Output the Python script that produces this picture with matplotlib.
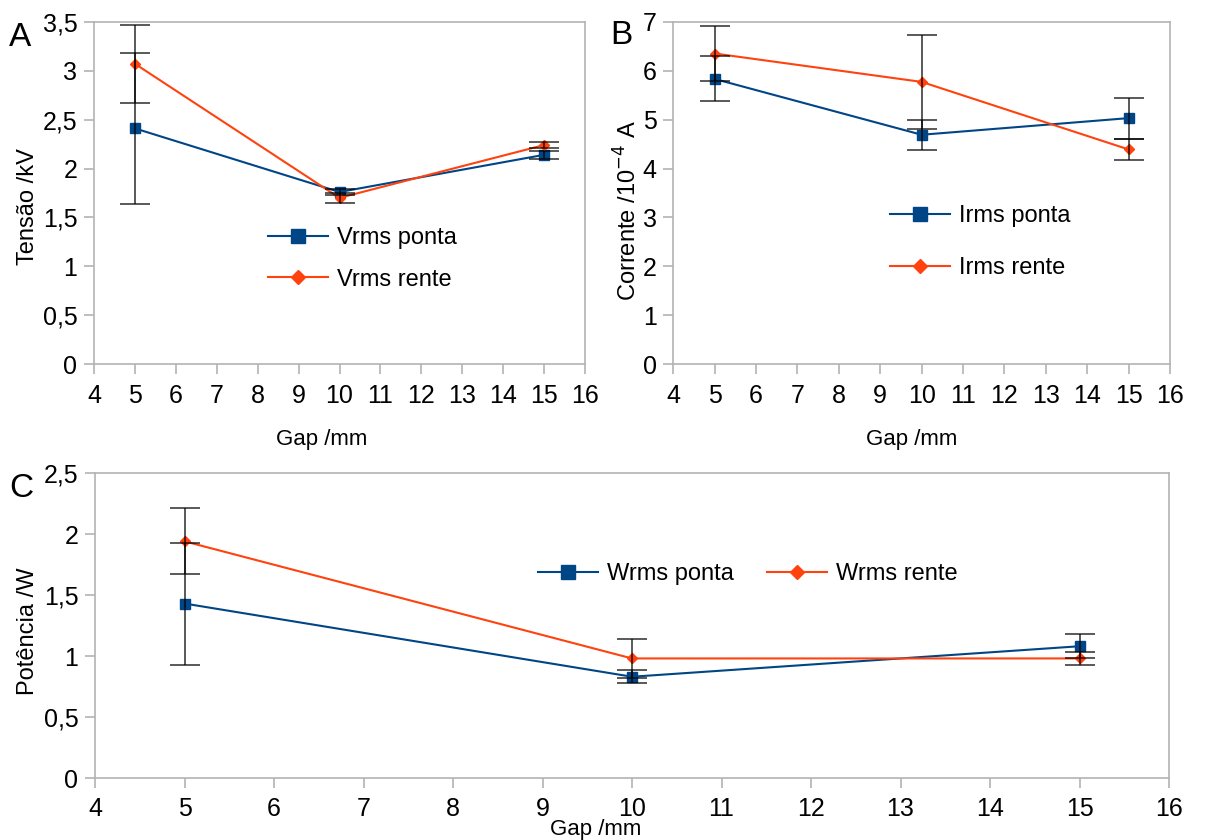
import matplotlib
matplotlib.use("Agg")
import matplotlib.pyplot as plt
import numpy as np

plt.rcParams['font.family'] = ['Liberation Sans', 'DejaVu Sans']

gap = [5, 10, 15]

# Panel A: voltage (kV)
v_ponta = [2.41, 1.76, 2.14]
v_ponta_err = [0.77, 0.03, 0.04]
v_rente = [3.07, 1.70, 2.24]
v_rente_err = [0.40, 0.05, 0.035]

# Panel B: current (10^-4 A)
i_ponta = [5.83, 4.69, 5.03]
i_ponta_err = [0.46, 0.31, 0.42]
i_rente = [6.35, 5.77, 4.39]
i_rente_err = [0.57, 0.96, 0.22]

# Panel C: power (W)
w_ponta = [1.43, 0.83, 1.08]
w_ponta_err = [0.50, 0.055, 0.10]
w_rente = [1.94, 0.98, 0.98]
w_rente_err = [0.27, 0.16, 0.05]

x_ticks = list(range(4, 17))
yticks_A = [0, 0.5, 1, 1.5, 2, 2.5, 3, 3.5]
yticks_B = [0, 1, 2, 3, 4, 5, 6, 7]
yticks_C = [0, 0.5, 1, 1.5, 2, 2.5]

BLUE = '#004586'
ORANGE = '#ff420e'
GRID = '#b3b3b3'

W, H = 1205, 840
fig = plt.figure(figsize=(W / 100, H / 100), dpi=100)


def px_axes(l, t, r, b):
    return fig.add_axes([l / W, 1 - b / H, (r - l) / W, (b - t) / H])


def fmt(v):
    return ('%g' % v).replace('.', ',')


def style(ax, yticks, ymax):
    ax.set_xlim(4, 16)
    ax.set_ylim(0, ymax)
    ax.set_xticks(x_ticks)
    ax.set_xticklabels([str(t) for t in x_ticks])
    ax.set_yticks(yticks)
    ax.set_yticklabels([fmt(t) for t in yticks])
    for s in ax.spines.values():
        s.set_color(GRID)
        s.set_linewidth(1.2)
    ax.tick_params(axis='both', direction='out', length=7, width=1.2,
                   color=GRID, labelsize=18)
    ax.tick_params(axis='x', pad=7)
    ax.tick_params(axis='y', pad=5)


def draw(ax, y1, e1, y2, e2, lab1, lab2):
    ax.errorbar(gap, y1, yerr=e1, fmt='none', ecolor='black', alpha=0.65,
                elinewidth=1.4, capsize=11, capthick=1.4, zorder=4)
    ax.errorbar(gap, y2, yerr=e2, fmt='none', ecolor='black', alpha=0.65,
                elinewidth=1.4, capsize=11, capthick=1.4, zorder=4)
    l1, = ax.plot(gap, y1, color=BLUE, lw=1.5, marker='s', ms=7,
                  label=lab1, zorder=3)
    l2, = ax.plot(gap, y2, color=ORANGE, lw=1.5, marker='D', ms=5,
                  label=lab2, zorder=3)
    return l1, l2


def labels(ax, ylab, xpos, ypos, ylx, yly):
    ax.set_xlabel('Gap /mm', fontsize=16)
    ax.set_ylabel(ylab, fontsize=17)
    ax.xaxis.set_label_coords(xpos, ypos)
    ax.xaxis.label.set_va('center')
    ax.yaxis.set_label_coords(ylx, yly)
    ax.yaxis.label.set_va('center')


LEG = dict(bbox_transform=fig.transFigure, frameon=False, fontsize=17,
           handlelength=2.54, markerscale=1.5, handletextpad=0.38,
           borderaxespad=0, borderpad=0, loc='upper left')

# Panel A
axA = px_axes(94, 21.7, 585, 364.3)
style(axA, yticks_A, 3.5)
h = draw(axA, v_ponta, v_ponta_err, v_rente, v_rente_err, 'Vrms ponta', 'Vrms rente')
labels(axA, 'Tensão /kV', 0.464, -0.22, -0.135, 0.46)
axA.legend(handles=h, bbox_to_anchor=(268 / W, 1 - 227 / H),
           labelspacing=0.83, **LEG)

# Panel B
axB = px_axes(673.3, 21.7, 1170, 364.3)
style(axB, yticks_B, 7)
h = draw(axB, i_ponta, i_ponta_err, i_rente, i_rente_err, 'Irms ponta', 'Irms rente')
labels(axB, 'Corrente /10$^{-4}$ A', 0.48, -0.22, -0.091, 0.45)
axB.legend(handles=h, bbox_to_anchor=(890 / W, 1 - 205 / H),
           labelspacing=1.29, **LEG)

# Panel C
axC = px_axes(95, 473, 1169, 778)
style(axC, yticks_C, 2.5)
h = draw(axC, w_ponta, w_ponta_err, w_rente, w_rente_err, 'Wrms ponta', 'Wrms rente')
labels(axC, 'Potência /W', 0.466, -0.17, -0.062, 0.48)
axC.legend(handles=h, bbox_to_anchor=(538 / W, 1 - 563 / H), ncol=2,
           columnspacing=1.4, **LEG)

# Panel letters
fig.text(9 / W, 1 - 38 / H, 'A', fontsize=24, va='center', ha='left')
fig.text(610 / W, 1 - 36 / H, 'B', fontsize=24, va='center', ha='left')
fig.text(9 / W, 1 - 488 / H, 'C', fontsize=24, va='center', ha='left')

fig.savefig('out.png', dpi=100)
